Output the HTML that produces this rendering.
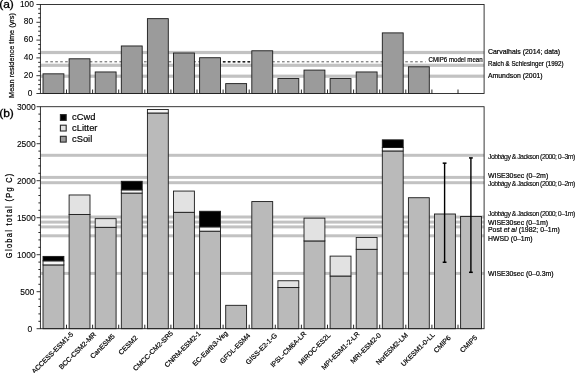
<!DOCTYPE html>
<html><head><meta charset="utf-8"><title>Figure</title>
<style>html,body{margin:0;padding:0;background:#fff}svg{display:block;filter:blur(0.3px)}</style></head>
<body>
<svg width="575" height="373" viewBox="0 0 575 373" font-family="Liberation Sans, sans-serif" fill="#000"><style>text{stroke:#000;stroke-width:0.2px}</style>
<rect width="575" height="373" fill="#fff"/>
<rect x="40.4" y="50.90" width="443.70" height="3.2" fill="#c2c2c2"/>
<rect x="40.4" y="63.70" width="443.70" height="3.2" fill="#c2c2c2"/>
<rect x="40.4" y="74.60" width="443.70" height="3.2" fill="#c2c2c2"/>
<line x1="45.4" y1="61.8" x2="425.5" y2="61.8" stroke="#5a5a5a" stroke-width="1.0" stroke-dasharray="2.6 2.33"/>
<line x1="222.88" y1="61.8" x2="251" y2="61.8" stroke="#222" stroke-width="1.5" stroke-dasharray="2.6 2.33"/>
<rect x="43.01" y="73.83" width="20.88" height="19.67" fill="#9b9b9b" stroke="#1a1a1a" stroke-width="0.9"/>
<rect x="69.11" y="58.79" width="20.88" height="34.71" fill="#9b9b9b" stroke="#1a1a1a" stroke-width="0.9"/>
<rect x="95.21" y="71.96" width="20.88" height="21.54" fill="#9b9b9b" stroke="#1a1a1a" stroke-width="0.9"/>
<rect x="121.31" y="45.97" width="20.88" height="47.53" fill="#9b9b9b" stroke="#1a1a1a" stroke-width="0.9"/>
<rect x="147.41" y="18.65" width="20.88" height="74.85" fill="#9b9b9b" stroke="#1a1a1a" stroke-width="0.9"/>
<rect x="173.51" y="53.01" width="20.88" height="40.49" fill="#9b9b9b" stroke="#1a1a1a" stroke-width="0.9"/>
<rect x="199.61" y="57.72" width="20.88" height="35.78" fill="#9b9b9b" stroke="#1a1a1a" stroke-width="0.9"/>
<rect x="225.71" y="83.62" width="20.88" height="9.88" fill="#9b9b9b" stroke="#1a1a1a" stroke-width="0.9"/>
<rect x="251.81" y="50.78" width="20.88" height="42.72" fill="#9b9b9b" stroke="#1a1a1a" stroke-width="0.9"/>
<rect x="277.91" y="78.55" width="20.88" height="14.95" fill="#9b9b9b" stroke="#1a1a1a" stroke-width="0.9"/>
<rect x="304.01" y="70.09" width="20.88" height="23.41" fill="#9b9b9b" stroke="#1a1a1a" stroke-width="0.9"/>
<rect x="330.11" y="78.55" width="20.88" height="14.95" fill="#9b9b9b" stroke="#1a1a1a" stroke-width="0.9"/>
<rect x="356.21" y="71.96" width="20.88" height="21.54" fill="#9b9b9b" stroke="#1a1a1a" stroke-width="0.9"/>
<rect x="382.31" y="32.89" width="20.88" height="60.61" fill="#9b9b9b" stroke="#1a1a1a" stroke-width="0.9"/>
<rect x="408.41" y="66.80" width="20.88" height="26.70" fill="#9b9b9b" stroke="#1a1a1a" stroke-width="0.9"/>
<rect x="40.4" y="4.5" width="443.70" height="89.0" fill="none" stroke="#222" stroke-width="0.9"/>
<line x1="36.4" y1="93.50" x2="40.4" y2="93.50" stroke="#222" stroke-width="0.9"/>
<text transform="translate(32.5,95.60) scale(0.93,1)" font-size="9" text-anchor="end" style="stroke-width:0.1px">0</text>
<line x1="38.2" y1="89.05" x2="40.4" y2="89.05" stroke="#111" stroke-width="0.9"/>
<line x1="38.2" y1="84.60" x2="40.4" y2="84.60" stroke="#111" stroke-width="0.9"/>
<line x1="38.2" y1="80.15" x2="40.4" y2="80.15" stroke="#111" stroke-width="0.9"/>
<line x1="36.4" y1="75.70" x2="40.4" y2="75.70" stroke="#222" stroke-width="0.9"/>
<text transform="translate(33.1,77.70) scale(0.93,1)" font-size="9" text-anchor="end" style="stroke-width:0.1px">20</text>
<line x1="38.2" y1="71.25" x2="40.4" y2="71.25" stroke="#111" stroke-width="0.9"/>
<line x1="38.2" y1="66.80" x2="40.4" y2="66.80" stroke="#111" stroke-width="0.9"/>
<line x1="38.2" y1="62.35" x2="40.4" y2="62.35" stroke="#111" stroke-width="0.9"/>
<line x1="36.4" y1="57.90" x2="40.4" y2="57.90" stroke="#222" stroke-width="0.9"/>
<text transform="translate(33.1,59.70) scale(0.93,1)" font-size="9" text-anchor="end" style="stroke-width:0.1px">40</text>
<line x1="38.2" y1="53.45" x2="40.4" y2="53.45" stroke="#111" stroke-width="0.9"/>
<line x1="38.2" y1="49.00" x2="40.4" y2="49.00" stroke="#111" stroke-width="0.9"/>
<line x1="38.2" y1="44.55" x2="40.4" y2="44.55" stroke="#111" stroke-width="0.9"/>
<line x1="36.4" y1="40.10" x2="40.4" y2="40.10" stroke="#222" stroke-width="0.9"/>
<text transform="translate(33.1,41.90) scale(0.93,1)" font-size="9" text-anchor="end" style="stroke-width:0.1px">60</text>
<line x1="38.2" y1="35.65" x2="40.4" y2="35.65" stroke="#111" stroke-width="0.9"/>
<line x1="38.2" y1="31.20" x2="40.4" y2="31.20" stroke="#111" stroke-width="0.9"/>
<line x1="38.2" y1="26.75" x2="40.4" y2="26.75" stroke="#111" stroke-width="0.9"/>
<line x1="36.4" y1="22.30" x2="40.4" y2="22.30" stroke="#222" stroke-width="0.9"/>
<text transform="translate(33.1,24.10) scale(0.93,1)" font-size="9" text-anchor="end" style="stroke-width:0.1px">80</text>
<line x1="38.2" y1="17.85" x2="40.4" y2="17.85" stroke="#111" stroke-width="0.9"/>
<line x1="38.2" y1="13.40" x2="40.4" y2="13.40" stroke="#111" stroke-width="0.9"/>
<line x1="38.2" y1="8.95" x2="40.4" y2="8.95" stroke="#111" stroke-width="0.9"/>
<line x1="36.4" y1="4.50" x2="40.4" y2="4.50" stroke="#222" stroke-width="0.9"/>
<text transform="translate(33.9,7.20) scale(0.93,1)" font-size="9" text-anchor="end" style="stroke-width:0.1px">100</text>
<line x1="66.50" y1="93.5" x2="66.50" y2="89.5" stroke="#111" stroke-width="0.9"/>
<line x1="92.60" y1="93.5" x2="92.60" y2="89.5" stroke="#111" stroke-width="0.9"/>
<line x1="118.70" y1="93.5" x2="118.70" y2="89.5" stroke="#111" stroke-width="0.9"/>
<line x1="144.80" y1="93.5" x2="144.80" y2="89.5" stroke="#111" stroke-width="0.9"/>
<line x1="170.90" y1="93.5" x2="170.90" y2="89.5" stroke="#111" stroke-width="0.9"/>
<line x1="197.00" y1="93.5" x2="197.00" y2="89.5" stroke="#111" stroke-width="0.9"/>
<line x1="223.10" y1="93.5" x2="223.10" y2="89.5" stroke="#111" stroke-width="0.9"/>
<line x1="249.20" y1="93.5" x2="249.20" y2="89.5" stroke="#111" stroke-width="0.9"/>
<line x1="275.30" y1="93.5" x2="275.30" y2="89.5" stroke="#111" stroke-width="0.9"/>
<line x1="301.40" y1="93.5" x2="301.40" y2="89.5" stroke="#111" stroke-width="0.9"/>
<line x1="327.50" y1="93.5" x2="327.50" y2="89.5" stroke="#111" stroke-width="0.9"/>
<line x1="353.60" y1="93.5" x2="353.60" y2="89.5" stroke="#111" stroke-width="0.9"/>
<line x1="379.70" y1="93.5" x2="379.70" y2="89.5" stroke="#111" stroke-width="0.9"/>
<line x1="405.80" y1="93.5" x2="405.80" y2="89.5" stroke="#111" stroke-width="0.9"/>
<line x1="431.90" y1="93.5" x2="431.90" y2="89.5" stroke="#111" stroke-width="0.9"/>
<line x1="458.00" y1="93.5" x2="458.00" y2="89.5" stroke="#111" stroke-width="0.9"/>
<text transform="translate(-0.8,8.4) scale(1.09,1)" font-size="11" style="stroke-width:0.3px">(a)</text>
<text transform="translate(14.0,55.5) rotate(-90)" font-size="8.1" text-anchor="middle" textLength="84.8" lengthAdjust="spacingAndGlyphs">Mean residence time (yrs)</text>
<text x="428.6" y="62.1" font-size="6.9" textLength="54" lengthAdjust="spacingAndGlyphs">CMIP6 model mean</text>
<text x="488" y="53.6" font-size="6.95" textLength="72.1" lengthAdjust="spacingAndGlyphs">Carvalhais (2014; data)</text>
<text x="488" y="66.4" font-size="6.95" textLength="75.6" lengthAdjust="spacingAndGlyphs">Raich &amp; Schlesinger (1992)</text>
<text x="488" y="77.6" font-size="6.95" textLength="54.6" lengthAdjust="spacingAndGlyphs">Amundson (2001)</text>
<rect x="40.4" y="153.80" width="443.70" height="3.0" fill="#c2c2c2"/>
<rect x="40.4" y="175.90" width="443.70" height="3.0" fill="#c2c2c2"/>
<rect x="40.4" y="181.20" width="443.70" height="3.0" fill="#c2c2c2"/>
<rect x="40.4" y="215.50" width="443.70" height="3.0" fill="#c2c2c2"/>
<rect x="40.4" y="220.60" width="443.70" height="3.0" fill="#c2c2c2"/>
<rect x="40.4" y="225.40" width="443.70" height="3.0" fill="#c2c2c2"/>
<rect x="40.4" y="234.30" width="443.70" height="3.0" fill="#c2c2c2"/>
<rect x="40.4" y="271.90" width="443.70" height="3.0" fill="#c2c2c2"/>
<rect x="43.01" y="264.91" width="20.88" height="63.79" fill="#bababa" stroke="#1a1a1a" stroke-width="0.9"/>
<rect x="43.01" y="260.84" width="20.88" height="4.07" fill="#f6f6f6" stroke="#1a1a1a" stroke-width="0.9"/>
<rect x="43.01" y="256.40" width="20.88" height="4.44" fill="#000" stroke="#1a1a1a" stroke-width="0.9"/>
<rect x="69.11" y="214.44" width="20.88" height="114.26" fill="#bababa" stroke="#1a1a1a" stroke-width="0.9"/>
<rect x="69.11" y="194.98" width="20.88" height="19.46" fill="#e2e2e2" stroke="#1a1a1a" stroke-width="0.9"/>
<rect x="95.21" y="227.32" width="20.88" height="101.38" fill="#bababa" stroke="#1a1a1a" stroke-width="0.9"/>
<rect x="95.21" y="218.66" width="20.88" height="8.66" fill="#e2e2e2" stroke="#1a1a1a" stroke-width="0.9"/>
<rect x="121.31" y="193.06" width="20.88" height="135.64" fill="#bababa" stroke="#1a1a1a" stroke-width="0.9"/>
<rect x="121.31" y="189.88" width="20.88" height="3.18" fill="#f6f6f6" stroke="#1a1a1a" stroke-width="0.9"/>
<rect x="121.31" y="181.29" width="20.88" height="8.58" fill="#000" stroke="#1a1a1a" stroke-width="0.9"/>
<rect x="147.41" y="112.99" width="20.88" height="215.71" fill="#bababa" stroke="#1a1a1a" stroke-width="0.9"/>
<rect x="147.41" y="109.51" width="20.88" height="3.48" fill="#f6f6f6" stroke="#1a1a1a" stroke-width="0.9"/>
<rect x="173.51" y="212.30" width="20.88" height="116.40" fill="#bababa" stroke="#1a1a1a" stroke-width="0.9"/>
<rect x="173.51" y="191.06" width="20.88" height="21.24" fill="#e2e2e2" stroke="#1a1a1a" stroke-width="0.9"/>
<rect x="199.61" y="231.17" width="20.88" height="97.53" fill="#bababa" stroke="#1a1a1a" stroke-width="0.9"/>
<rect x="199.61" y="226.88" width="20.88" height="4.29" fill="#f6f6f6" stroke="#1a1a1a" stroke-width="0.9"/>
<rect x="199.61" y="211.26" width="20.88" height="15.61" fill="#000" stroke="#1a1a1a" stroke-width="0.9"/>
<rect x="225.71" y="305.32" width="20.88" height="23.38" fill="#bababa" stroke="#1a1a1a" stroke-width="0.9"/>
<rect x="251.81" y="201.57" width="20.88" height="127.13" fill="#bababa" stroke="#1a1a1a" stroke-width="0.9"/>
<rect x="277.91" y="287.56" width="20.88" height="41.14" fill="#bababa" stroke="#1a1a1a" stroke-width="0.9"/>
<rect x="277.91" y="280.75" width="20.88" height="6.81" fill="#e2e2e2" stroke="#1a1a1a" stroke-width="0.9"/>
<rect x="304.01" y="240.94" width="20.88" height="87.76" fill="#bababa" stroke="#1a1a1a" stroke-width="0.9"/>
<rect x="304.01" y="218.14" width="20.88" height="22.79" fill="#e2e2e2" stroke="#1a1a1a" stroke-width="0.9"/>
<rect x="330.11" y="276.01" width="20.88" height="52.69" fill="#bababa" stroke="#1a1a1a" stroke-width="0.9"/>
<rect x="330.11" y="256.11" width="20.88" height="19.91" fill="#e2e2e2" stroke="#1a1a1a" stroke-width="0.9"/>
<rect x="356.21" y="249.30" width="20.88" height="79.40" fill="#bababa" stroke="#1a1a1a" stroke-width="0.9"/>
<rect x="356.21" y="237.46" width="20.88" height="11.84" fill="#e2e2e2" stroke="#1a1a1a" stroke-width="0.9"/>
<rect x="382.31" y="150.95" width="20.88" height="177.75" fill="#bababa" stroke="#1a1a1a" stroke-width="0.9"/>
<rect x="382.31" y="147.47" width="20.88" height="3.48" fill="#f6f6f6" stroke="#1a1a1a" stroke-width="0.9"/>
<rect x="382.31" y="139.85" width="20.88" height="7.62" fill="#000" stroke="#1a1a1a" stroke-width="0.9"/>
<rect x="408.41" y="197.72" width="20.88" height="130.98" fill="#bababa" stroke="#1a1a1a" stroke-width="0.9"/>
<rect x="434.51" y="214.00" width="20.88" height="114.70" fill="#bababa" stroke="#1a1a1a" stroke-width="0.9"/>
<rect x="460.61" y="216.44" width="20.88" height="112.26" fill="#bababa" stroke="#1a1a1a" stroke-width="0.9"/>
<line x1="444.60" y1="163.16" x2="444.60" y2="262.25" stroke="#000" stroke-width="1.4"/>
<line x1="442.70" y1="262.25" x2="446.50" y2="262.25" stroke="#000" stroke-width="1.5"/>
<line x1="442.70" y1="163.16" x2="446.50" y2="163.16" stroke="#000" stroke-width="1.5"/>
<line x1="470.90" y1="157.91" x2="470.90" y2="272.31" stroke="#000" stroke-width="1.4"/>
<line x1="469.00" y1="272.31" x2="472.80" y2="272.31" stroke="#000" stroke-width="1.5"/>
<line x1="469.00" y1="157.91" x2="472.80" y2="157.91" stroke="#000" stroke-width="1.5"/>
<rect x="40.4" y="106.7" width="443.70" height="222.00" fill="none" stroke="#222" stroke-width="0.9"/>
<line x1="36.6" y1="328.70" x2="40.4" y2="328.70" stroke="#222" stroke-width="0.9"/>
<text transform="translate(32.3,331.65) scale(0.93,1)" font-size="9.1" text-anchor="end" style="stroke-width:0.1px">0</text>
<line x1="38.4" y1="321.30" x2="40.4" y2="321.30" stroke="#111" stroke-width="0.9"/>
<line x1="38.4" y1="313.90" x2="40.4" y2="313.90" stroke="#111" stroke-width="0.9"/>
<line x1="38.4" y1="306.50" x2="40.4" y2="306.50" stroke="#111" stroke-width="0.9"/>
<line x1="38.4" y1="299.10" x2="40.4" y2="299.10" stroke="#111" stroke-width="0.9"/>
<line x1="36.6" y1="291.70" x2="40.4" y2="291.70" stroke="#222" stroke-width="0.9"/>
<text transform="translate(34.3,294.65) scale(0.93,1)" font-size="9.1" text-anchor="end" style="stroke-width:0.1px">500</text>
<line x1="38.4" y1="284.30" x2="40.4" y2="284.30" stroke="#111" stroke-width="0.9"/>
<line x1="38.4" y1="276.90" x2="40.4" y2="276.90" stroke="#111" stroke-width="0.9"/>
<line x1="38.4" y1="269.50" x2="40.4" y2="269.50" stroke="#111" stroke-width="0.9"/>
<line x1="38.4" y1="262.10" x2="40.4" y2="262.10" stroke="#111" stroke-width="0.9"/>
<line x1="36.6" y1="254.70" x2="40.4" y2="254.70" stroke="#222" stroke-width="0.9"/>
<text transform="translate(35.7,257.65) scale(0.93,1)" font-size="9.1" text-anchor="end" style="stroke-width:0.1px">1000</text>
<line x1="38.4" y1="247.30" x2="40.4" y2="247.30" stroke="#111" stroke-width="0.9"/>
<line x1="38.4" y1="239.90" x2="40.4" y2="239.90" stroke="#111" stroke-width="0.9"/>
<line x1="38.4" y1="232.50" x2="40.4" y2="232.50" stroke="#111" stroke-width="0.9"/>
<line x1="38.4" y1="225.10" x2="40.4" y2="225.10" stroke="#111" stroke-width="0.9"/>
<line x1="36.6" y1="217.70" x2="40.4" y2="217.70" stroke="#222" stroke-width="0.9"/>
<text transform="translate(35.7,220.65) scale(0.93,1)" font-size="9.1" text-anchor="end" style="stroke-width:0.1px">1500</text>
<line x1="38.4" y1="210.30" x2="40.4" y2="210.30" stroke="#111" stroke-width="0.9"/>
<line x1="38.4" y1="202.90" x2="40.4" y2="202.90" stroke="#111" stroke-width="0.9"/>
<line x1="38.4" y1="195.50" x2="40.4" y2="195.50" stroke="#111" stroke-width="0.9"/>
<line x1="38.4" y1="188.10" x2="40.4" y2="188.10" stroke="#111" stroke-width="0.9"/>
<line x1="36.6" y1="180.70" x2="40.4" y2="180.70" stroke="#222" stroke-width="0.9"/>
<text transform="translate(35.7,183.65) scale(0.93,1)" font-size="9.1" text-anchor="end" style="stroke-width:0.1px">2000</text>
<line x1="38.4" y1="173.30" x2="40.4" y2="173.30" stroke="#111" stroke-width="0.9"/>
<line x1="38.4" y1="165.90" x2="40.4" y2="165.90" stroke="#111" stroke-width="0.9"/>
<line x1="38.4" y1="158.50" x2="40.4" y2="158.50" stroke="#111" stroke-width="0.9"/>
<line x1="38.4" y1="151.10" x2="40.4" y2="151.10" stroke="#111" stroke-width="0.9"/>
<line x1="36.6" y1="143.70" x2="40.4" y2="143.70" stroke="#222" stroke-width="0.9"/>
<text transform="translate(35.7,146.65) scale(0.93,1)" font-size="9.1" text-anchor="end" style="stroke-width:0.1px">2500</text>
<line x1="38.4" y1="136.30" x2="40.4" y2="136.30" stroke="#111" stroke-width="0.9"/>
<line x1="38.4" y1="128.90" x2="40.4" y2="128.90" stroke="#111" stroke-width="0.9"/>
<line x1="38.4" y1="121.50" x2="40.4" y2="121.50" stroke="#111" stroke-width="0.9"/>
<line x1="38.4" y1="114.10" x2="40.4" y2="114.10" stroke="#111" stroke-width="0.9"/>
<line x1="36.6" y1="106.70" x2="40.4" y2="106.70" stroke="#222" stroke-width="0.9"/>
<text transform="translate(35.7,109.65) scale(0.93,1)" font-size="9.1" text-anchor="end" style="stroke-width:0.1px">3000</text>
<line x1="66.50" y1="328.7" x2="66.50" y2="324.7" stroke="#111" stroke-width="0.9"/>
<line x1="92.60" y1="328.7" x2="92.60" y2="324.7" stroke="#111" stroke-width="0.9"/>
<line x1="118.70" y1="328.7" x2="118.70" y2="324.7" stroke="#111" stroke-width="0.9"/>
<line x1="144.80" y1="328.7" x2="144.80" y2="324.7" stroke="#111" stroke-width="0.9"/>
<line x1="170.90" y1="328.7" x2="170.90" y2="324.7" stroke="#111" stroke-width="0.9"/>
<line x1="197.00" y1="328.7" x2="197.00" y2="324.7" stroke="#111" stroke-width="0.9"/>
<line x1="223.10" y1="328.7" x2="223.10" y2="324.7" stroke="#111" stroke-width="0.9"/>
<line x1="249.20" y1="328.7" x2="249.20" y2="324.7" stroke="#111" stroke-width="0.9"/>
<line x1="275.30" y1="328.7" x2="275.30" y2="324.7" stroke="#111" stroke-width="0.9"/>
<line x1="301.40" y1="328.7" x2="301.40" y2="324.7" stroke="#111" stroke-width="0.9"/>
<line x1="327.50" y1="328.7" x2="327.50" y2="324.7" stroke="#111" stroke-width="0.9"/>
<line x1="353.60" y1="328.7" x2="353.60" y2="324.7" stroke="#111" stroke-width="0.9"/>
<line x1="379.70" y1="328.7" x2="379.70" y2="324.7" stroke="#111" stroke-width="0.9"/>
<line x1="405.80" y1="328.7" x2="405.80" y2="324.7" stroke="#111" stroke-width="0.9"/>
<line x1="431.90" y1="328.7" x2="431.90" y2="324.7" stroke="#111" stroke-width="0.9"/>
<line x1="458.00" y1="328.7" x2="458.00" y2="324.7" stroke="#111" stroke-width="0.9"/>
<text transform="translate(-0.8,116.5) scale(1.09,1)" font-size="11" style="stroke-width:0.3px">(b)</text>
<text transform="translate(11.9,215.9) rotate(-90) scale(0.85,1)" font-size="8.7" text-anchor="middle" textLength="99.4" lengthAdjust="spacing" style="stroke-width:0.25px">Global total (Pg C)</text>
<rect x="60.4" y="114.6" width="5.8" height="5.8" fill="#000" stroke="#2a2a2a" stroke-width="1.1"/>
<text x="72.1" y="120.4" font-size="9.3" style="stroke-width:0.18px">cCwd</text>
<rect x="60.4" y="125.2" width="5.8" height="5.8" fill="#e2e2e2" stroke="#2a2a2a" stroke-width="1.1"/>
<text x="72.1" y="131.0" font-size="9.3" style="stroke-width:0.18px">cLitter</text>
<rect x="60.4" y="136.3" width="5.8" height="5.8" fill="#9b9b9b" stroke="#2a2a2a" stroke-width="1.1"/>
<text x="72.1" y="142.1" font-size="9.3" style="stroke-width:0.18px">cSoil</text>
<text x="488" y="158.9" font-size="6.95" textLength="87.3" lengthAdjust="spacing" style="stroke-width:0.1px">Jobbágy &amp; Jackson (2000; 0–3m)</text>
<text x="488" y="178.0" font-size="6.95" textLength="60.2" lengthAdjust="spacingAndGlyphs">WISE30sec (0–2m)</text>
<text x="488" y="186.0" font-size="6.95" textLength="87.3" lengthAdjust="spacing" style="stroke-width:0.1px">Jobbágy &amp; Jackson (2000; 0–2m)</text>
<text x="488" y="215.5" font-size="6.95" textLength="87.3" lengthAdjust="spacing" style="stroke-width:0.1px">Jobbágy &amp; Jackson (2000; 0–1m)</text>
<text x="488" y="224.7" font-size="6.95" textLength="60.0" lengthAdjust="spacingAndGlyphs">WISE30sec (0–1m)</text>
<text x="488" y="232.2" font-size="6.95" textLength="71.7" lengthAdjust="spacingAndGlyphs">Post <tspan font-style="italic">et al</tspan> (1982; 0–1m)</text>
<text x="488" y="240.8" font-size="6.95" textLength="44.6" lengthAdjust="spacingAndGlyphs">HWSD (0–1m)</text>
<text x="488" y="275.9" font-size="6.95" textLength="65.6" lengthAdjust="spacingAndGlyphs">WISE30sec (0–0.3m)</text>
<text transform="translate(73.7,334.8) rotate(-45)" font-size="6.9" text-anchor="end">ACCESS-ESM1-5</text>
<text transform="translate(96.5,335.0) rotate(-45)" font-size="6.9" text-anchor="end">BCC-CSM2-MR</text>
<text transform="translate(115.2,336.7) rotate(-45)" font-size="6.9" text-anchor="end">CanESM5</text>
<text transform="translate(138.0,338.4) rotate(-45)" font-size="6.9" text-anchor="end">CESM2</text>
<text transform="translate(173.5,333.7) rotate(-45)" font-size="6.9" text-anchor="end">CMCC-CM2-SR5</text>
<text transform="translate(201.2,334.0) rotate(-45)" font-size="6.9" text-anchor="end">CNRM-ESM2-1</text>
<text transform="translate(228.1,333.7) rotate(-45)" font-size="6.9" text-anchor="end">EC-Earth3-Veg</text>
<text transform="translate(250.7,336.0) rotate(-45)" font-size="6.9" text-anchor="end">GFDL-ESM4</text>
<text transform="translate(277.5,335.9) rotate(-45)" font-size="6.9" text-anchor="end">GISS-E2-1-G</text>
<text transform="translate(306.8,334.2) rotate(-45)" font-size="6.9" text-anchor="end">IPSL-CM6A-LR</text>
<text transform="translate(331.0,335.9) rotate(-45)" font-size="6.9" text-anchor="end">MIROC-ES2L</text>
<text transform="translate(360.0,334.4) rotate(-45)" font-size="6.9" text-anchor="end">MPI-ESM1-2-LR</text>
<text transform="translate(381.4,335.8) rotate(-45)" font-size="6.9" text-anchor="end">MRI-ESM2-0</text>
<text transform="translate(408.2,335.7) rotate(-45)" font-size="6.9" text-anchor="end">NorESM2-LM</text>
<text transform="translate(435.1,335.4) rotate(-45)" font-size="6.9" text-anchor="end">UKESM1-0-LL</text>
<text transform="translate(451.3,338.3) rotate(-45)" font-size="6.9" text-anchor="end">CMIP6</text>
<text transform="translate(477.7,338.1) rotate(-45)" font-size="6.9" text-anchor="end">CMIP5</text>
</svg>
</body></html>
